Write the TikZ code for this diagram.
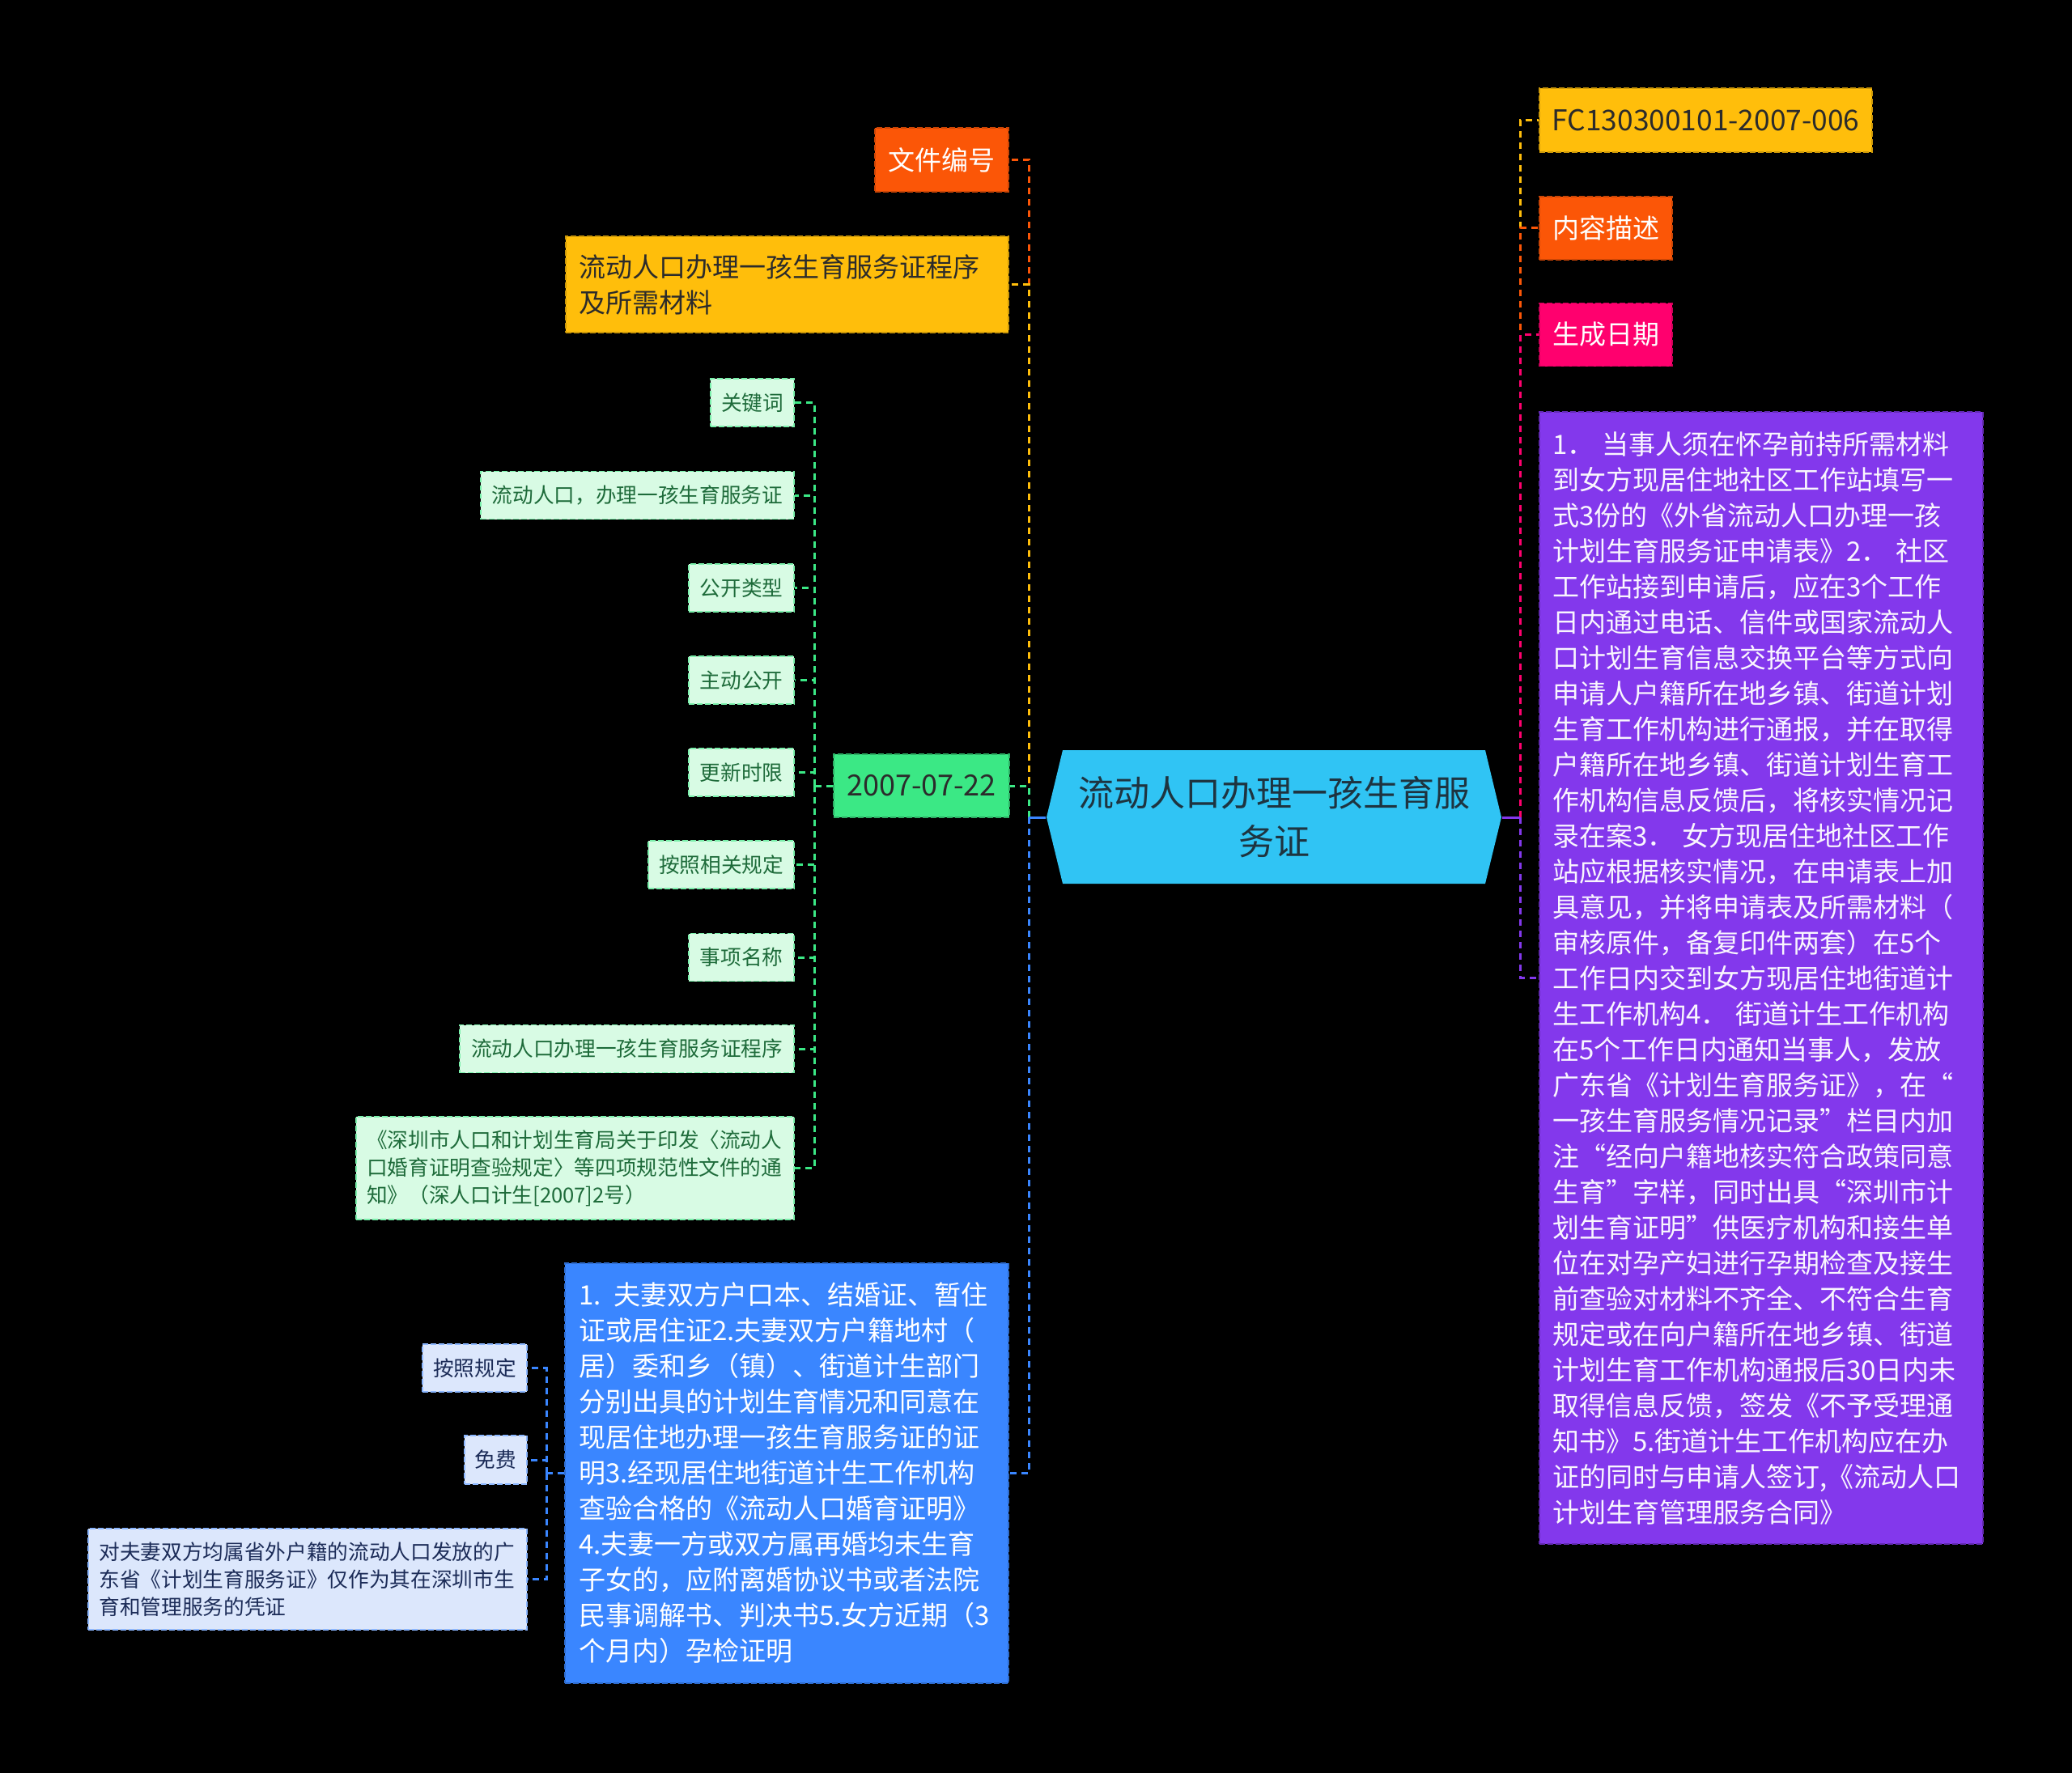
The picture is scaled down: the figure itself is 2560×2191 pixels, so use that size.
\documentclass[tikz,border=0pt]{standalone}
\usepackage{fontspec}
\setmainfont{Noto Sans CJK SC}
\definecolor{cCyan}{HTML}{30C4F4}
\definecolor{cCtext}{HTML}{1E3440}
\definecolor{cOrng}{HTML}{FB5607}
\definecolor{cYelw}{HTML}{FFBE0B}
\definecolor{cPink}{HTML}{FF006E}
\definecolor{cPurp}{HTML}{8338EC}
\definecolor{cBlu}{HTML}{3A86FF}
\definecolor{cGrn}{HTML}{3BE885}
\definecolor{cLgrn}{HTML}{D8FBE4}
\definecolor{cDgrn}{HTML}{1E6B3A}
\definecolor{cLblu}{HTML}{DCE7FC}
\definecolor{cDblu}{HTML}{1C2C58}
\definecolor{cDark}{HTML}{2B2B2B}
\begin{document}
\begin{tikzpicture}[x=0.3pt,y=-0.3pt,
  box/.style={rectangle, inner sep=0pt, line width=0.5pt, dash pattern=on 2pt off 1pt,
    font=\fontsize{9.9}{13.2}\selectfont},
  gsub/.style={box, fill=cLgrn, draw=cGrn!60!cLgrn, text=cDgrn,
    font=\fontsize{7.7}{10.2}\selectfont, minimum height=17.7pt},
  bsub/.style={box, fill=cLblu, draw=cBlu!50!cLblu, text=cDblu,
    font=\fontsize{7.7}{10.2}\selectfont, minimum height=17.7pt},
  conn/.style={line width=0.9pt, dash pattern=on 2.4pt off 1.8pt},
  link/.style={line width=0.9pt}]
\fill[black] (0,0) rectangle (2560,2191);
\useasboundingbox (0,0) rectangle (2560,2191);

% central
\fill[cCyan] (1293,1010) -- (1313,927) -- (1835,927) -- (1855,1010) -- (1835,1092) -- (1313,1092) -- cycle;
\node[text=cCtext, align=center, font=\fontsize{13.2}{18}\selectfont, minimum width=168.6pt,
  minimum height=49.5pt, inner sep=0pt] (c) at (1574,1010) {流动人口办理一孩生育服\\务证};

% left main branches
\node[box, fill=cOrng, draw=cOrng!80!black, text=white, minimum width=49.5pt, minimum height=23.7pt]
  (wj) at (1163.5,197.5) {文件编号};
\node[box, fill=cYelw, draw=cYelw!80!black, text=cDark, text width=154.5pt, inner xsep=4.8pt,
  align=left, minimum height=35.7pt] (cl) at (972.5,351.5) {流动人口办理一孩生育服务证程序\\及所需材料};
\node[box, fill=cGrn, draw=cGrn!75!black, text=cDark, minimum width=65.1pt, minimum height=23.4pt,
  font=\fontsize{10.8}{13.2}\selectfont] (dt) at (1138.5,971) {2007-07-22};
\node[box, fill=cBlu, draw=cBlu!80!black, text=white, text width=154.2pt, inner xsep=5.1pt,
  align=left, minimum height=155.7pt] (bm) at (972,1820.5)
  {1. 夫妻双方户口本、结婚证、暂住\\证或居住证2.夫妻双方户籍地村（\\居）委和乡（镇）、街道计生部门\\分别出具的计划生育情况和同意在\\现居住地办理一孩生育服务证的证\\明3.经现居住地街道计生工作机构\\查验合格的《流动人口婚育证明》\\4.夫妻一方或双方属再婚均未生育\\子女的，应附离婚协议书或者法院\\民事调解书、判决书5.女方近期（3\\个月内）孕检证明};

% green children
\node[gsub, minimum width=30.9pt] (ga) at (929.5,497.5) {关键词};
\node[gsub, minimum width=116.1pt] (gb) at (787.5,612) {流动人口，办理一孩生育服务证};
\node[gsub, minimum width=39pt] (gc) at (916,726.5) {公开类型};
\node[gsub, minimum width=39pt] (gd) at (916,840.5) {主动公开};
\node[gsub, minimum width=39pt] (ge) at (916,954.5) {更新时限};
\node[gsub, minimum width=54pt] (gf) at (891,1068.5) {按照相关规定};
\node[gsub, minimum width=39pt] (gg) at (916,1183) {事项名称};
\node[gsub, minimum width=123.9pt] (gh) at (774.5,1296) {流动人口办理一孩生育服务证程序};
\node[gsub, text width=154.5pt, inner xsep=3.9pt, align=left, minimum height=38.1pt] (gi) at (710.5,1443.5)
  {《深圳市人口和计划生育局关于印发〈流动人\\口婚育证明查验规定〉等四项规范性文件的通\\知》（深人口计生[2007]2号）};

% blue children
\node[bsub, minimum width=38.7pt] (bj) at (586.5,1690.5) {按照规定};
\node[bsub, minimum width=23.1pt, minimum height=18pt] (bk) at (612.5,1804) {免费};
\node[bsub, text width=154.5pt, inner xsep=4.05pt, align=left, minimum height=37.5pt] (bl) at (380,1951.5)
  {对夫妻双方均属省外户籍的流动人口发放的广\\东省《计划生育服务证》仅作为其在深圳市生\\育和管理服务的凭证};

% right branches
\node[box, fill=cYelw, draw=cYelw!80!black, text=cDark, minimum width=123.3pt, minimum height=23.7pt,
  font=\fontsize{10.6}{13.2}\selectfont] (rm) at (2107.5,148.5) {FC130300101-2007-006};
\node[box, fill=cOrng, draw=cOrng!80!black, text=white, minimum width=49.2pt, minimum height=23.4pt]
  (rn) at (1984,282) {内容描述};
\node[box, fill=cPink, draw=cPink!80!black, text=white, minimum width=49.2pt, minimum height=23.4pt]
  (ro) at (1984,413.5) {生成日期};
\node[box, fill=cPurp, draw=cPurp!75!black, text=white!95!cPurp, text width=154.8pt, inner xsep=4.8pt,
  align=left, minimum height=419.7pt] (rp) at (2176,1208.5)
  {1．\hspace{0.3em}当事人须在怀孕前持所需材料\\到女方现居住地社区工作站填写一\\式3份的《外省流动人口办理一孩\\计划生育服务证申请表》2．\hspace{0.3em}社区\\工作站接到申请后，应在3个工作\\日内通过电话、信件或国家流动人\\口计划生育信息交换平台等方式向\\申请人户籍所在地乡镇、街道计划\\生育工作机构进行通报，并在取得\\户籍所在地乡镇、街道计划生育工\\作机构信息反馈后，将核实情况记\\录在案3．\hspace{0.3em}女方现居住地社区工作\\站应根据核实情况，在申请表上加\\具意见，并将申请表及所需材料（\\审核原件，备复印件两套）在5个\\工作日内交到女方现居住地街道计\\生工作机构4．\hspace{0.3em}街道计生工作机构\\在5个工作日内通知当事人，发放\\广东省《计划生育服务证》，在“\\一孩生育服务情况记录”栏目内加\\注“经向户籍地核实符合政策同意\\生育”字样，同时出具“深圳市计\\划生育证明”供医疗机构和接生单\\位在对孕产妇进行孕期检查及接生\\前查验对材料不齐全、不符合生育\\规定或在向户籍所在地乡镇、街道\\计划生育工作机构通报后30日内未\\取得信息反馈，签发《不予受理通\\知书》5.街道计生工作机构应在办\\证的同时与申请人签订,《流动人口\\计划生育管理服务合同》};

% connectors
\coordinate (lt) at (1271,1010);
\coordinate (rt) at (1878,1010);
\coordinate (gt) at (1006,971);
\coordinate (bt) at (675,1820.5);

\draw[conn, cOrng] (lt) |- (wj.east);
\draw[conn, cYelw] (lt) |- (cl.east);
\draw[conn, cGrn] (lt) |- (dt.east);
\draw[conn, cBlu] (lt) |- (bm.east);
\draw[link, cBlu] (c.west) -- (lt);

\draw[conn, cGrn] (dt.west) -- (gt);
\foreach \n in {ga,gb,gc,gd,ge,gf,gg,gh,gi} \draw[conn, cGrn] (gt) |- (\n.east);

\draw[conn, cBlu] (bm.west) -- (bt);
\foreach \n in {bj,bk,bl} \draw[conn, cBlu] (bt) |- (\n.east);

\draw[conn, cYelw] (rt) |- (rm.west);
\draw[conn, cOrng] (rt) |- (rn.west);
\draw[conn, cPink] (rt) |- (ro.west);
\draw[conn, cPurp] (rt) |- (rp.west);
\draw[link, cPurp] (c.east) -- (rt);
\end{tikzpicture}
\end{document}
